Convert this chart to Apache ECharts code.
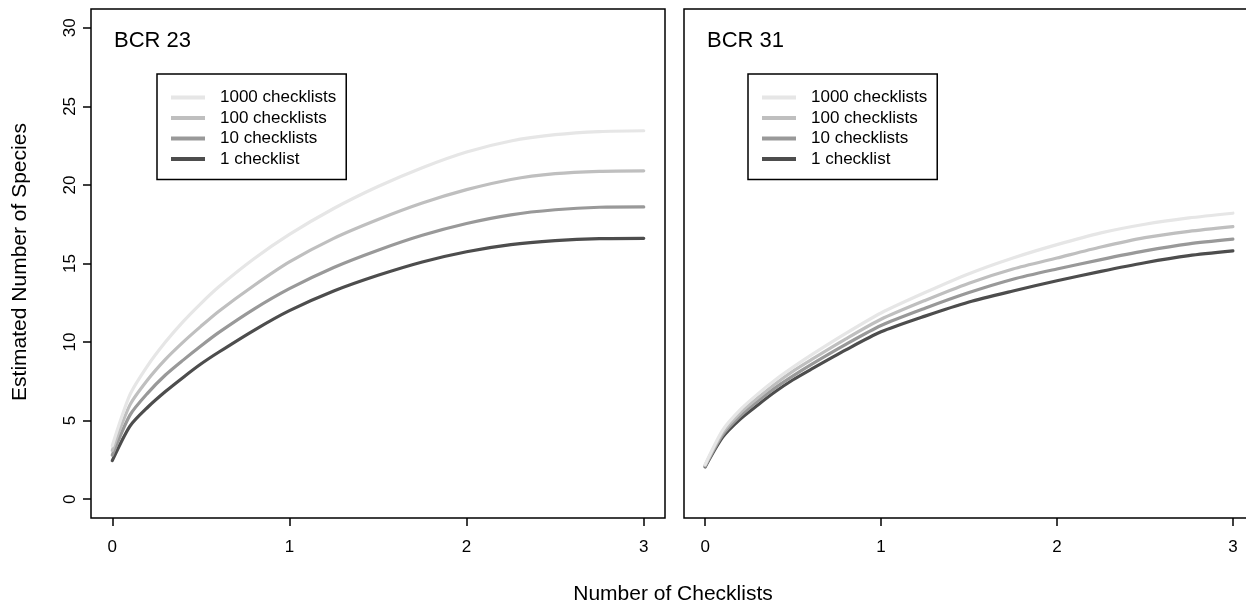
<!DOCTYPE html>
<html>
<head>
<meta charset="utf-8">
<script src="https://cdn.jsdelivr.net/npm/echarts@6/dist/echarts.min.js"></script>
<style>
html,body{margin:0;padding:0;background:#fff;}
#chart{width:1246px;height:607px;}
</style>
</head>
<body>
<div id="chart"></div>
<script>
// x positions (number of checklists axis)
const xs = [0, 0.1, 0.2, 0.3, 0.4, 0.5, 0.6, 0.8, 1.0, 1.25, 1.5, 1.75, 2.0, 2.25, 2.5, 2.75, 3.0];

// BCR 23
const bcr23_1000 = [3.4, 6.65, 8.5, 10.0, 11.3, 12.45, 13.5, 15.3, 16.85, 18.5, 19.9, 21.1, 22.1, 22.8, 23.2, 23.4, 23.45];
const bcr23_100  = [3.1, 6.0, 7.6, 8.9, 10.0, 11.0, 11.95, 13.6, 15.1, 16.6, 17.8, 18.85, 19.7, 20.35, 20.72, 20.87, 20.9];
const bcr23_10   = [2.8, 5.35, 6.75, 7.9, 8.85, 9.75, 10.6, 12.1, 13.4, 14.75, 15.85, 16.8, 17.55, 18.1, 18.42, 18.58, 18.6];
const bcr23_1    = [2.45, 4.65, 5.85, 6.85, 7.75, 8.6, 9.35, 10.75, 12.0, 13.25, 14.25, 15.1, 15.75, 16.2, 16.45, 16.58, 16.6];

// BCR 31
const bcr31_1000 = [2.2, 4.4, 5.7, 6.7, 7.6, 8.4, 9.15, 10.55, 11.85, 13.15, 14.35, 15.35, 16.2, 16.95, 17.5, 17.9, 18.2];
const bcr31_100  = [2.15, 4.25, 5.5, 6.45, 7.35, 8.15, 8.85, 10.2, 11.45, 12.65, 13.75, 14.65, 15.35, 16.05, 16.65, 17.05, 17.35];
const bcr31_10   = [2.1, 4.1, 5.3, 6.25, 7.1, 7.85, 8.55, 9.85, 11.05, 12.15, 13.15, 14.0, 14.65, 15.25, 15.8, 16.25, 16.55];
const bcr31_1    = [2.05, 3.95, 5.1, 6.0, 6.85, 7.6, 8.25, 9.5, 10.65, 11.65, 12.55, 13.25, 13.9, 14.5, 15.05, 15.5, 15.8];

const seriesNames = ['1000 checklists', '100 checklists', '10 checklists', '1 checklist'];
const seriesColors = ['#e6e6e6', '#bfbfbf', '#999999', '#4d4d4d'];
const xTicks = [0, 1, 2, 3];
const yTicks = [0, 5, 10, 15, 20, 25, 30];
const panelTitles = ['BCR 23', 'BCR 31'];
const xTitle = 'Number of Checklists';
const yTitle = 'Estimated Number of Species';

const FONT = '"Liberation Sans", Arial, Helvetica, sans-serif';

function pairs(ys) { return xs.map((x, i) => [x, ys[i]]); }

const panels = [
  [bcr23_1000, bcr23_100, bcr23_10, bcr23_1],
  [bcr31_1000, bcr31_100, bcr31_10, bcr31_1]
];

const series = [];
panels.forEach((p, gi) => {
  for (let k = 3; k >= 0; k--) {
    series.push({
      name: seriesNames[k],
      type: 'line',
      xAxisIndex: gi,
      yAxisIndex: gi,
      data: pairs(p[k]),
      symbol: 'none',
      showSymbol: false,
      smooth: 0.25,
      color: seriesColors[k],
      itemStyle: { color: seriesColors[k] },
      lineStyle: { color: seriesColors[k], width: 3.2, cap: 'round', join: 'round' },
      z: 2 + (3 - k)
    });
  }
});

function xAxisDef(gi) {
  return {
    gridIndex: gi, type: 'value', min: -0.12, max: 3.12,
    splitLine: { show: false },
    axisLine: { show: false, onZero: false },
    axisTick: { show: true, inside: false, customValues: xTicks, length: 8, lineStyle: { color: '#000', width: 1.5 } },
    axisLabel: { show: true, customValues: xTicks, margin: 21, fontSize: 17, color: '#000', fontFamily: FONT }
  };
}

const legendCommon = {
  orient: 'vertical',
  top: 74,
  data: seriesNames,
  icon: 'rect',
  itemWidth: 34,
  itemHeight: 4,
  itemGap: 3.5,
  padding: [15, 10, 12, 14],
  borderColor: '#000',
  borderWidth: 1.5,
  backgroundColor: '#fff',
  selectedMode: false,
  textStyle: { fontSize: 17, color: '#000', fontFamily: FONT, lineHeight: 17, padding: [0, 0, 0, 10] }
};

const option = {
  animation: false,
  backgroundColor: '#fff',
  grid: [
    { left: 91, top: 9, width: 574, height: 509, show: true, borderColor: '#000', borderWidth: 1.5, backgroundColor: 'transparent', containLabel: false, outerBoundsMode: 'none' },
    { left: 684, top: 9, width: 570, height: 509, show: true, borderColor: '#000', borderWidth: 1.5, backgroundColor: 'transparent', containLabel: false, outerBoundsMode: 'none' }
  ],
  xAxis: [xAxisDef(0), xAxisDef(1)],
  yAxis: [
    {
      gridIndex: 0, type: 'value', min: -1.2, max: 31.2,
      splitLine: { show: false },
      axisLine: { show: false, onZero: false },
      axisTick: { show: true, inside: false, customValues: yTicks, length: 8, lineStyle: { color: '#000', width: 1.5 } },
      axisLabel: { show: true, customValues: yTicks, rotate: 90, margin: 12, fontSize: 17, color: '#000', fontFamily: FONT }
    },
    {
      gridIndex: 1, type: 'value', min: -1.2, max: 31.2,
      splitLine: { show: false },
      axisLine: { show: false, onZero: false },
      axisTick: { show: false },
      axisLabel: { show: false }
    }
  ],
  legend: [
    Object.assign({}, legendCommon, { left: 157 }),
    Object.assign({}, legendCommon, { left: 748 })
  ],
  graphic: [
    { type: 'text', left: 114, top: 30, style: { text: panelTitles[0], fontSize: 22, fill: '#000', fontFamily: FONT } },
    { type: 'text', left: 707, top: 30, style: { text: panelTitles[1], fontSize: 22, fill: '#000', fontFamily: FONT } },
    { type: 'text', x: 673, y: 594, style: { text: xTitle, fontSize: 21, fill: '#000', fontFamily: FONT, align: 'center', verticalAlign: 'middle' } },
    { type: 'text', x: 20, y: 262, rotation: Math.PI / 2, style: { text: yTitle, fontSize: 21, fill: '#000', fontFamily: FONT, align: 'center', verticalAlign: 'middle' } }
  ],
  series: series
};

const chart = echarts.init(document.getElementById('chart'), null, { renderer: 'canvas' });
chart.setOption(option);
</script>
</body>
</html>
